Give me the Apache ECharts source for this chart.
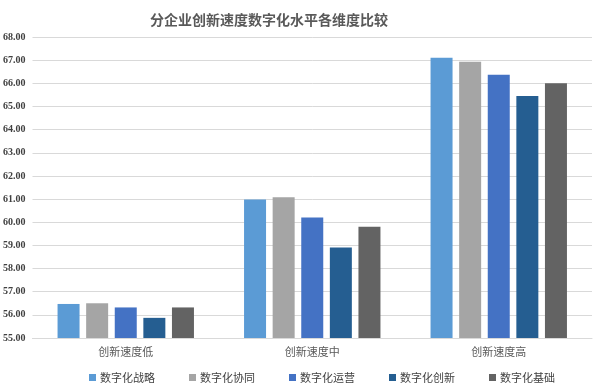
<!DOCTYPE html>
<html><head><meta charset="utf-8">
<script src="https://cdn.jsdelivr.net/npm/echarts@6/dist/echarts.min.js"></script>
<style>html,body{margin:0;padding:0;background:#fff}#c{width:599px;height:389px}</style>
</head><body><div id="c"></div>
<script>
const categories = ['创新速度低', '创新速度中', '创新速度高'];
const seriesNames = ['数字化战略', '数字化协同', '数字化运营', '数字化创新', '数字化基础'];
const strategy = [56.47, 60.98, 67.10];
const collaboration = [56.50, 61.08, 66.93];
const operation = [56.32, 60.20, 66.37];
const innovation = [55.87, 58.91, 65.45];
const foundation = [56.32, 59.80, 66.00];
const seriesValues = [strategy, collaboration, operation, innovation, foundation];
const colors = ['#5B9BD5', '#A5A5A5', '#4472C4', '#255E91', '#636363'];

const chart = echarts.init(document.getElementById('c'));
chart.setOption({
  animation: false,
  title: {
    text: '分企业创新速度数字化水平各维度比较',
    left: 145, top: 8,
    textStyle: { fontSize: 14, fontWeight: 'bold', color: '#595959', fontFamily: 'Noto Sans CJK SC' }
  },
  legend: {
    top: 367, left: 84,
    itemWidth: 7, itemHeight: 7, itemGap: 34,
    icon: 'rect',
    textStyle: { fontSize: 11, color: '#404040', fontFamily: 'Noto Sans CJK SC', padding: [0, 0, 0, -1] },
    data: seriesNames
  },
  grid: { left: 30, right: 7, top: 37, bottom: 51, containLabel: false },
  xAxis: {
    type: 'category', data: categories,
    axisLine: { lineStyle: { color: '#D9D9D9' } },
    axisTick: { show: false },
    axisLabel: { fontSize: 11, color: '#595959', margin: 8, fontFamily: 'Noto Sans CJK SC' }
  },
  yAxis: {
    type: 'value', min: 55, max: 68, interval: 1,
    axisLine: { show: false }, axisTick: { show: false },
    splitLine: { lineStyle: { color: '#D9D9D9' } },
    axisLabel: {
      formatter: v => v.toFixed(2), fontSize: 10, fontWeight: 'bold',
      color: '#404040', fontFamily: 'Liberation Serif', margin: 7
    }
  },
  series: seriesNames.map((n, i) => ({
    name: n, type: 'bar', data: seriesValues[i],
    barWidth: 22, barGap: '30%',
    itemStyle: { color: colors[i] }
  }))
});
</script></body></html>
